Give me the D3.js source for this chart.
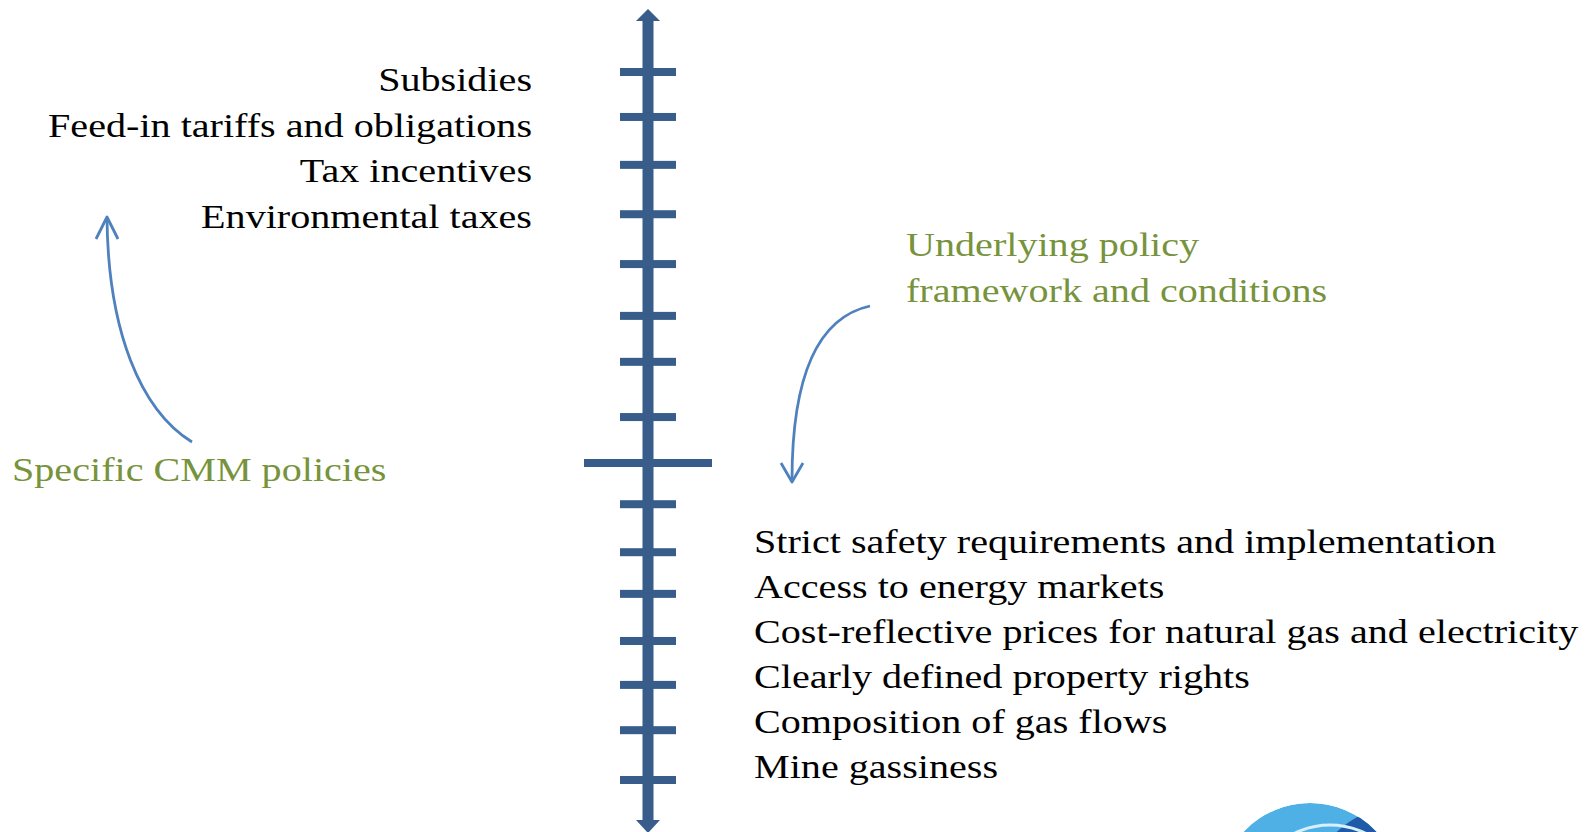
<!DOCTYPE html>
<html>
<head>
<meta charset="utf-8">
<script src="https://cdn.jsdelivr.net/npm/d3@7"></script>
<style>
  body { margin: 0; background: #fff; }
  svg { display: block; }
</style>
</head>
<body>
<svg width="1588" height="832"></svg>
<script>
// policy labels
var topLabels = ["Subsidies", "Feed-in tariffs and obligations", "Tax incentives", "Environmental taxes"];
var bottomLabels = [
  "Strict safety requirements and implementation",
  "Access to energy markets",
  "Cost-reflective prices for natural gas and electricity",
  "Clearly defined property rights",
  "Composition of gas flows",
  "Mine gassiness"
];
var greenTop = ["Underlying policy", "framework and conditions"];
var greenLeft = ["Specific CMM policies"];

// tick levels on the vertical policy axis (0 = the long cross bar), spacing
var upperTicks = [8, 7.08, 6.1, 5.09, 4.07, 3.01, 2.07, 0.94];
var lowerTicks = [-0.91, -1.97, -2.89, -3.93, -4.9, -5.9, -7];
var centreTick = [0];

var axisBlue = "#385d8a";
var arrowBlue = "#4f81bd";
var green = "#77933c";

function init() {
  var svg = d3.select("svg");
  var g = svg.append("g");

  var y = d3.scaleLinear().domain([8, 0, -7]).range([72, 463, 780]);
  var ax = 648;

  // shaft
  g.append("rect")
    .attr("x", ax - 5.5).attr("y", 18)
    .attr("width", 11).attr("height", 805)
    .attr("fill", axisBlue);

  // arrow heads on both ends
  g.append("path")
    .attr("d", "M" + (ax - 12) + ",21 L" + ax + ",9 L" + (ax + 12) + ",21 Z")
    .attr("fill", axisBlue);
  g.append("path")
    .attr("d", "M" + (ax - 12) + ",820 L" + ax + ",833 L" + (ax + 12) + ",820 Z")
    .attr("fill", axisBlue);

  // short ticks
  g.selectAll("rect.tick")
    .data(upperTicks.concat(lowerTicks))
    .enter().append("rect")
    .attr("class", "tick")
    .attr("x", 620)
    .attr("y", function(d) { return y(d) - 4; })
    .attr("width", 56)
    .attr("height", 8)
    .attr("fill", axisBlue);

  // long centre bar
  g.selectAll("rect.centre")
    .data(centreTick)
    .enter().append("rect")
    .attr("class", "centre")
    .attr("x", 584)
    .attr("y", function(d) { return y(d) - 4; })
    .attr("width", 128)
    .attr("height", 8)
    .attr("fill", axisBlue);

  var font = "'Liberation Serif', 'Times New Roman', serif";
  var stretch = 1.18; // the original face is wider than Liberation Serif

  function widen(sel) {
    sel.each(function() {
      var w = this.getComputedTextLength();
      d3.select(this).attr("textLength", w * stretch).attr("lengthAdjust", "spacingAndGlyphs");
    });
  }

  // specific policies, right-aligned left of axis
  g.selectAll("text.top")
    .data(topLabels)
    .enter().append("text")
    .attr("class", "top")
    .attr("x", 532)
    .attr("y", function(d, i) { return 91 + i * 45.6; })
    .attr("text-anchor", "end")
    .attr("font-family", font)
    .attr("font-size", 34)
    .attr("fill", "#000")
    .text(function(d) { return d; })
    .call(widen);

  // framework conditions, right of axis
  g.selectAll("text.bottom")
    .data(bottomLabels)
    .enter().append("text")
    .attr("class", "bottom")
    .attr("x", 754)
    .attr("y", function(d, i) { return 553 + i * 45; })
    .attr("font-family", font)
    .attr("font-size", 34)
    .attr("fill", "#000")
    .text(function(d) { return d; })
    .call(widen);

  g.selectAll("text.greentop")
    .data(greenTop)
    .enter().append("text")
    .attr("class", "greentop")
    .attr("x", 906)
    .attr("y", function(d, i) { return 256 + i * 45.5; })
    .attr("font-family", font)
    .attr("font-size", 34)
    .attr("fill", green)
    .text(function(d) { return d; })
    .call(widen);

  g.selectAll("text.greenleft")
    .data(greenLeft)
    .enter().append("text")
    .attr("class", "greenleft")
    .attr("x", 12)
    .attr("y", 481)
    .attr("font-family", font)
    .attr("font-size", 34)
    .attr("fill", green)
    .text(function(d) { return d; })
    .call(widen);

  // curved pointer arrows
  var arrows = [
    { d: "M192,442 C140,410 108,330 107,218", tip: [107, 217], wing: [[96, 239], [118, 239]] },
    { d: "M870,306 C815,318 792,380 792,480", tip: [792, 482], wing: [[781, 463], [803, 463]] }
  ];
  arrows.forEach(function(a) {
    g.append("path").attr("d", a.d)
      .attr("fill", "none").attr("stroke", arrowBlue).attr("stroke-width", 2.8);
    g.append("path")
      .attr("d", "M" + a.wing[0] + " L" + a.tip + " L" + a.wing[1])
      .attr("fill", "none").attr("stroke", arrowBlue).attr("stroke-width", 2.8)
      .attr("stroke-linejoin", "round");
  });

  // partial globe logo in the corner
  var defs = svg.append("defs");
  defs.append("clipPath").attr("id", "globe")
    .append("circle").attr("cx", 1310).attr("cy", 894).attr("r", 91);
  var logo = svg.append("g").attr("clip-path", "url(#globe)");
  logo.append("circle").attr("cx", 1310).attr("cy", 894).attr("r", 91).attr("fill", "#4fb0e6");
  logo.append("circle").attr("cx", 1405).attr("cy", 905).attr("r", 100).attr("fill", "#1f5aa8");
  [[1330, 905, 80], [1340, 905, 70], [1352, 905, 60]].forEach(function(c) {
    logo.append("circle").attr("cx", c[0]).attr("cy", c[1]).attr("r", c[2])
      .attr("fill", "none").attr("stroke", "#d8f0fb").attr("stroke-width", 3);
  });
}

init();
</script>
</body>
</html>
